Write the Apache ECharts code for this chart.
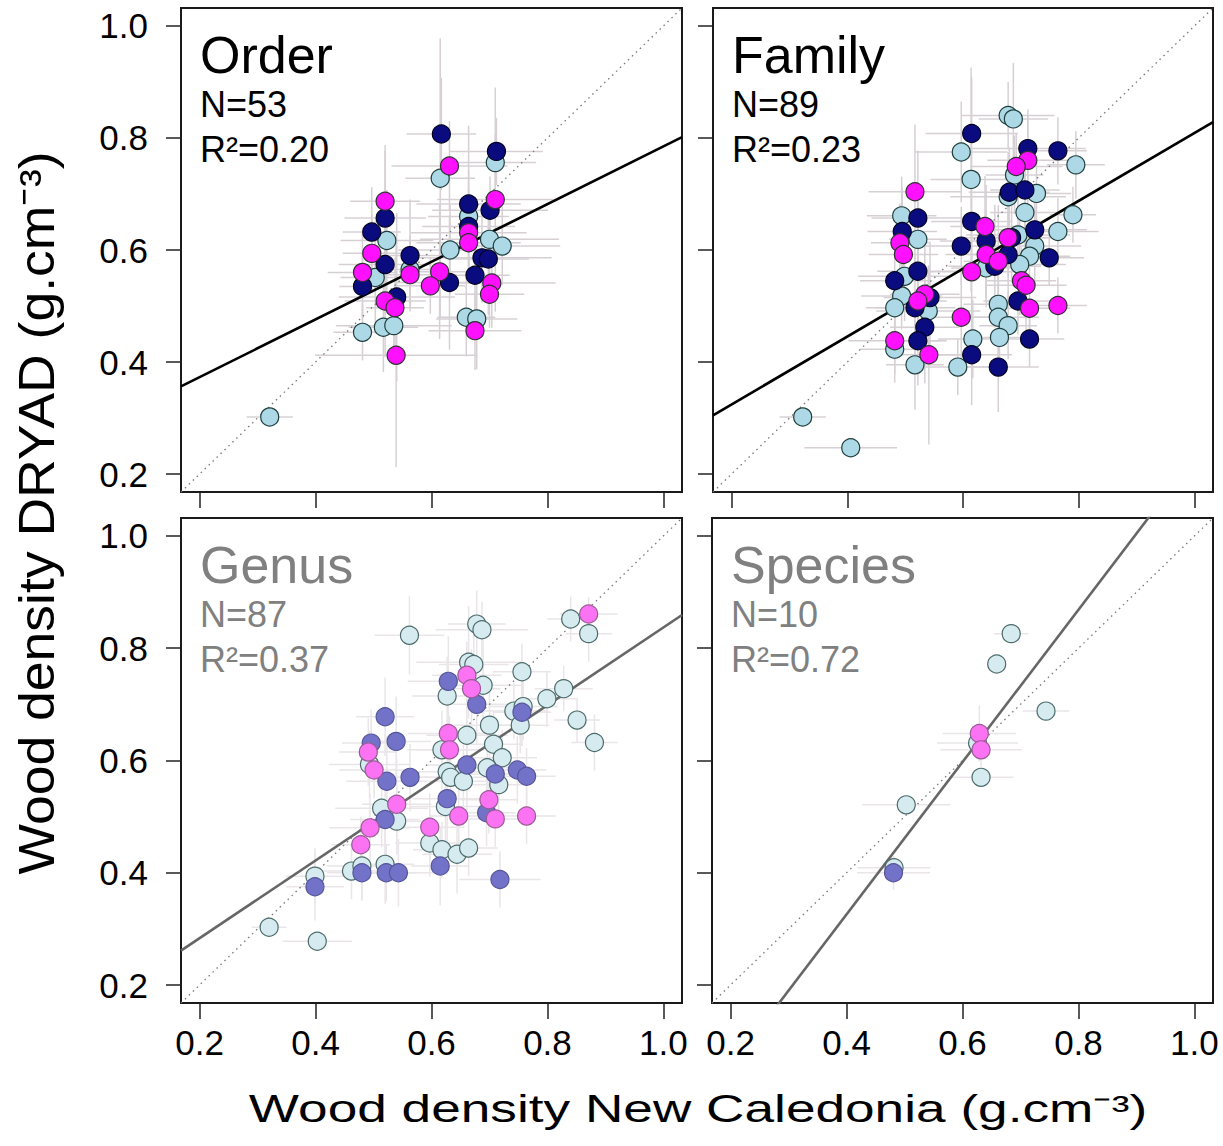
<!DOCTYPE html>
<html>
<head>
<meta charset="utf-8">
<script src="https://cdn.jsdelivr.net/npm/echarts@6.0.0/dist/echarts.min.js"></script>
<style>
html, body { margin: 0; padding: 0; background: #fff; }
#chart { width: 1223px; height: 1146px; }
</style>
</head>
<body>
<div id="chart"></div>
<script>
var chart = echarts.init(document.getElementById('chart'), null, { renderer: 'svg' });

// each point: [x, y, x error, y error]
var orderNavy = [
	[0.617, 0.807, 0.06, 0.10], [0.712, 0.776, 0.08, 0.06], [0.520, 0.657, 0.07, 0.12],
	[0.497, 0.632, 0.05, 0.08], [0.664, 0.682, 0.09, 0.14], [0.701, 0.671, 0.10, 0.06],
	[0.563, 0.590, 0.06, 0.10], [0.520, 0.574, 0.08, 0.09], [0.687, 0.586, 0.12, 0.08],
	[0.698, 0.584, 0.07, 0.10], [0.631, 0.542, 0.09, 0.12], [0.675, 0.555, 0.06, 0.07],
	[0.481, 0.535, 0.04, 0.06], [0.540, 0.516, 0.10, 0.15], [0.664, 0.642, 0.08, 0.10]
];
var orderMagenta = [
	[0.631, 0.750, 0.10, 0.08], [0.520, 0.687, 0.06, 0.10], [0.710, 0.690, 0.10, 0.20],
	[0.497, 0.594, 0.05, 0.07], [0.481, 0.560, 0.06, 0.08], [0.563, 0.556, 0.08, 0.06],
	[0.614, 0.561, 0.07, 0.12], [0.598, 0.536, 0.06, 0.05], [0.664, 0.631, 0.10, 0.06],
	[0.664, 0.613, 0.09, 0.05], [0.704, 0.541, 0.11, 0.08], [0.700, 0.521, 0.06, 0.06],
	[0.520, 0.509, 0.07, 0.10], [0.537, 0.497, 0.05, 0.09], [0.675, 0.456, 0.08, 0.07],
	[0.539, 0.412, 0.14, 0.20]
];
var orderLight = [
	[0.615, 0.728, 0.06, 0.25], [0.710, 0.756, 0.07, 0.05], [0.523, 0.617, 0.08, 0.09],
	[0.632, 0.600, 0.09, 0.08], [0.700, 0.619, 0.12, 0.06], [0.722, 0.607, 0.10, 0.07],
	[0.664, 0.660, 0.07, 0.05], [0.503, 0.551, 0.06, 0.10], [0.563, 0.565, 0.05, 0.06],
	[0.481, 0.453, 0.05, 0.05], [0.517, 0.462, 0.06, 0.08], [0.535, 0.465, 0.10, 0.06],
	[0.660, 0.480, 0.05, 0.07], [0.678, 0.477, 0.07, 0.09], [0.321, 0.302, 0.04, 0.00]
];

var familyNavy = [
	[0.615, 0.808, 0.08, 0.10], [0.712, 0.781, 0.10, 0.07], [0.764, 0.777, 0.05, 0.06],
	[0.680, 0.703, 0.07, 0.08], [0.707, 0.707, 0.06, 0.07], [0.522, 0.657, 0.08, 0.12],
	[0.495, 0.633, 0.06, 0.08], [0.615, 0.651, 0.07, 0.09], [0.724, 0.636, 0.09, 0.06],
	[0.640, 0.616, 0.08, 0.10], [0.597, 0.607, 0.07, 0.07], [0.684, 0.622, 0.06, 0.08],
	[0.678, 0.592, 0.07, 0.09], [0.749, 0.586, 0.06, 0.05], [0.655, 0.571, 0.08, 0.11],
	[0.522, 0.562, 0.07, 0.08], [0.482, 0.545, 0.06, 0.06], [0.543, 0.515, 0.08, 0.10],
	[0.695, 0.509, 0.06, 0.06], [0.517, 0.497, 0.07, 0.09], [0.534, 0.462, 0.06, 0.10],
	[0.522, 0.438, 0.05, 0.08], [0.615, 0.413, 0.07, 0.09], [0.715, 0.441, 0.06, 0.05],
	[0.661, 0.391, 0.07, 0.08]
];
var familyMagenta = [
	[0.517, 0.704, 0.08, 0.12], [0.712, 0.760, 0.07, 0.08], [0.692, 0.749, 0.08, 0.06],
	[0.638, 0.642, 0.06, 0.09], [0.491, 0.613, 0.05, 0.07], [0.497, 0.592, 0.06, 0.06],
	[0.678, 0.622, 0.08, 0.07], [0.640, 0.592, 0.07, 0.08], [0.661, 0.580, 0.06, 0.10],
	[0.615, 0.561, 0.08, 0.07], [0.701, 0.545, 0.06, 0.06], [0.709, 0.537, 0.07, 0.08],
	[0.534, 0.521, 0.06, 0.09], [0.522, 0.509, 0.05, 0.07], [0.597, 0.480, 0.06, 0.08],
	[0.715, 0.496, 0.07, 0.06], [0.764, 0.501, 0.05, 0.05], [0.482, 0.438, 0.08, 0.06],
	[0.541, 0.413, 0.07, 0.16]
];
var familyLight = [
	[0.678, 0.840, 0.08, 0.06], [0.687, 0.834, 0.06, 0.10], [0.597, 0.775, 0.08, 0.09],
	[0.795, 0.752, 0.05, 0.06], [0.614, 0.726, 0.07, 0.20], [0.689, 0.734, 0.05, 0.07],
	[0.727, 0.701, 0.06, 0.06], [0.678, 0.695, 0.10, 0.08], [0.707, 0.667, 0.06, 0.08],
	[0.790, 0.663, 0.04, 0.05], [0.494, 0.661, 0.06, 0.07], [0.522, 0.619, 0.05, 0.10],
	[0.764, 0.633, 0.07, 0.06], [0.695, 0.627, 0.09, 0.09], [0.724, 0.607, 0.08, 0.07],
	[0.715, 0.589, 0.07, 0.06], [0.698, 0.574, 0.08, 0.09], [0.640, 0.568, 0.06, 0.07],
	[0.499, 0.553, 0.08, 0.08], [0.494, 0.518, 0.07, 0.06], [0.482, 0.497, 0.05, 0.05],
	[0.540, 0.491, 0.09, 0.08], [0.661, 0.503, 0.06, 0.07], [0.661, 0.480, 0.07, 0.10],
	[0.678, 0.465, 0.05, 0.06], [0.617, 0.441, 0.06, 0.07], [0.663, 0.444, 0.05, 0.05],
	[0.482, 0.423, 0.06, 0.06], [0.517, 0.395, 0.05, 0.08], [0.591, 0.391, 0.06, 0.05],
	[0.323, 0.302, 0.04, 0.00], [0.406, 0.247, 0.08, 0.00]
];

var genusNavy = [
	[0.520, 0.678, 0.05, 0.07], [0.629, 0.741, 0.07, 0.08], [0.678, 0.700, 0.06, 0.07],
	[0.756, 0.686, 0.05, 0.06], [0.539, 0.634, 0.06, 0.08], [0.496, 0.631, 0.05, 0.06],
	[0.563, 0.570, 0.06, 0.06], [0.523, 0.563, 0.07, 0.08], [0.661, 0.592, 0.07, 0.08],
	[0.710, 0.576, 0.06, 0.06], [0.748, 0.583, 0.05, 0.06], [0.764, 0.572, 0.05, 0.05],
	[0.627, 0.532, 0.06, 0.09], [0.695, 0.507, 0.05, 0.06], [0.520, 0.495, 0.06, 0.08],
	[0.615, 0.412, 0.05, 0.07], [0.480, 0.400, 0.06, 0.05], [0.522, 0.400, 0.05, 0.05],
	[0.543, 0.400, 0.06, 0.06], [0.718, 0.388, 0.07, 0.05], [0.399, 0.375, 0.05, 0.06]
];
var genusMagenta = [
	[0.871, 0.861, 0.05, 0.03], [0.661, 0.752, 0.06, 0.06], [0.669, 0.728, 0.05, 0.07],
	[0.629, 0.648, 0.07, 0.08], [0.631, 0.619, 0.06, 0.06], [0.491, 0.615, 0.05, 0.06],
	[0.501, 0.583, 0.06, 0.05], [0.540, 0.522, 0.06, 0.08], [0.699, 0.530, 0.05, 0.06],
	[0.710, 0.496, 0.06, 0.05], [0.647, 0.501, 0.05, 0.06], [0.764, 0.501, 0.05, 0.05],
	[0.494, 0.480, 0.07, 0.06], [0.597, 0.481, 0.06, 0.06], [0.478, 0.450, 0.05, 0.05]
];
var genusLight = [
	[0.562, 0.823, 0.06, 0.07], [0.678, 0.843, 0.05, 0.06], [0.687, 0.833, 0.08, 0.05],
	[0.840, 0.852, 0.04, 0.04], [0.871, 0.826, 0.04, 0.05], [0.664, 0.775, 0.09, 0.10],
	[0.673, 0.771, 0.06, 0.07], [0.756, 0.758, 0.05, 0.05], [0.689, 0.734, 0.07, 0.08],
	[0.627, 0.715, 0.06, 0.07], [0.828, 0.728, 0.05, 0.04], [0.799, 0.710, 0.05, 0.05],
	[0.742, 0.688, 0.06, 0.05], [0.758, 0.696, 0.06, 0.06], [0.753, 0.663, 0.05, 0.05],
	[0.851, 0.672, 0.04, 0.04], [0.881, 0.632, 0.04, 0.05], [0.700, 0.663, 0.06, 0.07],
	[0.661, 0.645, 0.07, 0.07], [0.707, 0.629, 0.05, 0.06], [0.618, 0.619, 0.06, 0.07],
	[0.722, 0.605, 0.06, 0.05], [0.696, 0.587, 0.07, 0.06], [0.716, 0.557, 0.05, 0.05],
	[0.627, 0.580, 0.08, 0.07], [0.633, 0.570, 0.06, 0.06], [0.655, 0.563, 0.06, 0.08],
	[0.493, 0.593, 0.07, 0.06], [0.514, 0.515, 0.08, 0.07], [0.540, 0.492, 0.06, 0.06],
	[0.624, 0.518, 0.06, 0.08], [0.597, 0.453, 0.06, 0.06], [0.618, 0.441, 0.05, 0.05],
	[0.644, 0.433, 0.06, 0.07], [0.664, 0.444, 0.05, 0.05], [0.462, 0.403, 0.05, 0.05],
	[0.480, 0.412, 0.06, 0.06], [0.520, 0.415, 0.05, 0.07], [0.399, 0.394, 0.05, 0.05],
	[0.320, 0.303, 0.03, 0.00], [0.403, 0.278, 0.06, 0.00]
];

var speciesNavy = [
	[0.481, 0.400, 0.063, 0.03]
];
var speciesMagenta = [
	[0.629, 0.648, 0.063, 0.05], [0.632, 0.619, 0.07, 0.03]
];
var speciesLight = [
	[0.684, 0.826, 0.03, 0.00], [0.659, 0.772, 0.00, 0.00], [0.744, 0.688, 0.04, 0.00],
	[0.626, 0.631, 0.07, 0.00], [0.632, 0.570, 0.056, 0.00], [0.503, 0.521, 0.076, 0.00],
	[0.482, 0.409, 0.063, 0.02]
];

// regression fits: [intercept, slope]
var orderFit = [0.270, 0.515];
var familyFit = [0.203, 0.606];
var genusFit = [0.145, 0.692];
var speciesFit = [-0.217, 1.357];

var levels = ['Order', 'Family', 'Genus', 'Species'];
var sampleSizes = [53, 89, 87, 10];
var rSquared = ['0.20', '0.23', '0.37', '0.72'];
var tickValues = [0.2, 0.4, 0.6, 0.8, 1.0];

var axisMin = 0.168, axisMax = 1.032;

var grids = [
	{ left: 181, top: 8, width: 501, height: 484 },
	{ left: 713, top: 8, width: 500, height: 484 },
	{ left: 181, top: 518, width: 501, height: 485 },
	{ left: 712, top: 518, width: 501, height: 485 }
];

var panelData = [
	[orderLight, orderNavy, orderMagenta, orderFit],
	[familyLight, familyNavy, familyMagenta, familyFit],
	[genusLight, genusNavy, genusMagenta, genusFit],
	[speciesLight, speciesNavy, speciesMagenta, speciesFit]
];

// top row is full colour, bottom row is washed out
var strong = {
	light: ['#add8e6', '#1f3f3f'],
	navy: ['#0b0b80', '#000020'],
	magenta: ['#ff10ff', '#303030'],
	bars: '#d6d0d4',
	fit: '#000',
	text: '#000'
};
var faded = {
	light: ['#d6ebef', '#4d6b6b'],
	navy: ['#7272c8', '#55559a'],
	magenta: ['#fb72f3', '#9a5a96'],
	bars: '#e9e5e8',
	fit: '#666',
	text: '#808080'
};

var labelFont = 'Liberation Sans, Arial, sans-serif';

var xAxes = [], yAxes = [], series = [], graphics = [];

grids.forEach(function (g, i) {
	var bottomRow = i >= 2;
	var leftCol = i % 2 === 0;
	var pal = bottomRow ? faded : strong;
	var d = panelData[i];

	xAxes.push({
		type: 'value', gridIndex: i, min: axisMin, max: axisMax,
		splitLine: { show: false },
		axisLine: { show: false },
		axisTick: { show: true, length: 16, customValues: tickValues, lineStyle: { color: '#222', width: 1.5 } },
		axisLabel: {
			show: bottomRow, customValues: tickValues, margin: 22,
			fontSize: 35, fontFamily: labelFont, color: '#000',
			formatter: function (v) { return v.toFixed(1); }
		}
	});
	yAxes.push({
		type: 'value', gridIndex: i, min: axisMin, max: axisMax,
		splitLine: { show: false },
		axisLine: { show: false },
		axisTick: { show: true, length: 15, customValues: tickValues, lineStyle: { color: '#222', width: 1.5 } },
		axisLabel: {
			show: leftCol, customValues: tickValues, margin: 33,
			fontSize: 35, fontFamily: labelFont, color: '#000',
			formatter: function (v) { return v.toFixed(1); }
		}
	});

	// error bars
	var allPts = d[0].concat(d[1], d[2]);
	series.push({
		type: 'custom', xAxisIndex: i, yAxisIndex: i, z: 1, clip: true, silent: true,
		data: allPts,
		renderItem: function (params, api) {
			var x = api.value(0), y = api.value(1), ex = api.value(2), ey = api.value(3);
			var h0 = api.coord([x - ex, y]), h1 = api.coord([x + ex, y]);
			var v0 = api.coord([x, y - ey]), v1 = api.coord([x, y + ey]);
			var st = { stroke: pal.bars, lineWidth: 1.5 };
			return {
				type: 'group',
				children: [
					{ type: 'line', shape: { x1: h0[0], y1: h0[1], x2: h1[0], y2: h1[1] }, style: st },
					{ type: 'line', shape: { x1: v0[0], y1: v0[1], x2: v1[0], y2: v1[1] }, style: st }
				]
			};
		}
	});

	// 1:1 line
	series.push({
		type: 'line', xAxisIndex: i, yAxisIndex: i, z: 2, symbol: 'none', silent: true,
		data: [[axisMin, axisMin], [axisMax, axisMax]],
		lineStyle: { color: '#777', width: 1.3, type: [1.5, 4] }
	});

	// fitted regression line
	var fit = d[3];
	series.push({
		type: 'line', xAxisIndex: i, yAxisIndex: i, z: 2, symbol: 'none', silent: true, clip: true,
		data: [[axisMin, fit[0] + fit[1] * axisMin], [axisMax, fit[0] + fit[1] * axisMax]],
		lineStyle: { color: pal.fit, width: 2.6 }
	});

	[['light', d[0]], ['navy', d[1]], ['magenta', d[2]]].forEach(function (s) {
		series.push({
			name: s[0], type: 'scatter', xAxisIndex: i, yAxisIndex: i, z: 3,
			symbol: 'circle', symbolSize: 18,
			data: s[1],
			itemStyle: { color: pal[s[0]][0], borderColor: pal[s[0]][1], borderWidth: 1.2, opacity: 1 }
		});
	});

	var tx = g.left + 19;
	graphics.push(
		{ type: 'text', x: tx, y: g.top + 47, style: { text: levels[i], font: '52px ' + labelFont, fill: pal.text, align: 'left', verticalAlign: 'middle' } },
		{ type: 'text', x: tx, y: g.top + 96, style: { text: 'N=' + sampleSizes[i], font: '36px ' + labelFont, fill: pal.text, align: 'left', verticalAlign: 'middle' } },
		{ type: 'text', x: tx, y: g.top + 141, style: { text: 'R\u00b2=' + rSquared[i], font: '36px ' + labelFont, fill: pal.text, align: 'left', verticalAlign: 'middle' } }
	);
});

graphics.push(
	{
		type: 'text', x: 37, y: 513, rotation: Math.PI / 2, scaleX: 1.07,
		style: { text: 'Wood density DRYAD (g.cm\u207b\u00b3)', font: '50px ' + labelFont, fill: '#000', align: 'center', verticalAlign: 'middle' }
	},
	{
		type: 'text', x: 698, y: 1109, scaleX: 1.4,
		style: { text: 'Wood density New Caledonia (g.cm\u207b\u00b3)', font: '38px ' + labelFont, fill: '#000', align: 'center', verticalAlign: 'middle' }
	}
);

chart.setOption({
	animation: false,
	backgroundColor: '#fff',
	grid: grids.map(function (g) {
		return { left: g.left, top: g.top, width: g.width, height: g.height, show: true, borderColor: '#1a1a1a', borderWidth: 2, backgroundColor: 'transparent' };
	}),
	xAxis: xAxes,
	yAxis: yAxes,
	series: series,
	graphic: graphics
});
</script>
</body>
</html>
